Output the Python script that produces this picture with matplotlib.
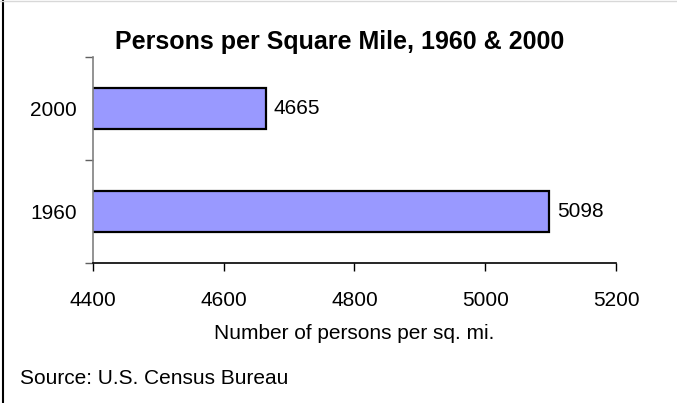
import matplotlib
matplotlib.use("Agg")
import matplotlib.pyplot as plt
from matplotlib.lines import Line2D

plt.rcParams['font.family'] = ['Liberation Sans', 'DejaVu Sans']

# data
years = ["1960", "2000"]
density = [5098, 4665]
x_ticks = [4400, 4600, 4800, 5000, 5200]

fig = plt.figure(figsize=[6.77, 4.03], dpi=100)
ax = fig.add_axes([0.137, 0.3474, 0.773, 0.5112])

ax.barh(years, density, height=0.4, left=0, color='#9999FF', edgecolor='black', linewidth=1.6)
ax.set_xlim(4400, 5200)
ax.set_ylim(-0.5, 1.5)
ax.set_xticks(x_ticks)
# category borders get the ticks, labels sit between them
ax.set_yticks([-0.5, 0.5, 1.5], minor=False)
ax.set_yticklabels([])
ax.set_yticks([0, 1], minor=True)
ax.set_yticklabels(years, minor=True, fontsize=15)
ax.tick_params(axis='y', which='minor', length=0, pad=11.5)
ax.tick_params(axis='y', which='major', length=6, color='#606060', width=1)
ax.tick_params(axis='x', length=6, width=1, labelsize=15, pad=14)

for i, v in enumerate(density):
    ax.text(v + 12, i, str(v), va='center', ha='left', fontsize=15)

for s in ['top', 'right']:
    ax.spines[s].set_visible(False)
ax.spines['left'].set_color('#808080')
ax.spines['left'].set_linewidth(1.2)
ax.spines['bottom'].set_linewidth(1.2)

ax.set_xlabel("Number of persons per sq. mi.", fontsize=15, labelpad=10)
fig.text(0.502, 0.896, "Persons per Square Mile, 1960 & 2000", ha='center', va='center',
         fontsize=18, fontweight='bold')
fig.text(0.03, 0.062, "Source: U.S. Census Bureau", ha='left', va='center', fontsize=15)

# frame lines on the left and top
fig.add_artist(Line2D([0.0045, 0.0045], [0, 1], transform=fig.transFigure, color='black', linewidth=1.5))
fig.add_artist(Line2D([0, 1], [0.997, 0.997], transform=fig.transFigure, color='#d8d8d8', linewidth=1))

plt.savefig("out.png")
